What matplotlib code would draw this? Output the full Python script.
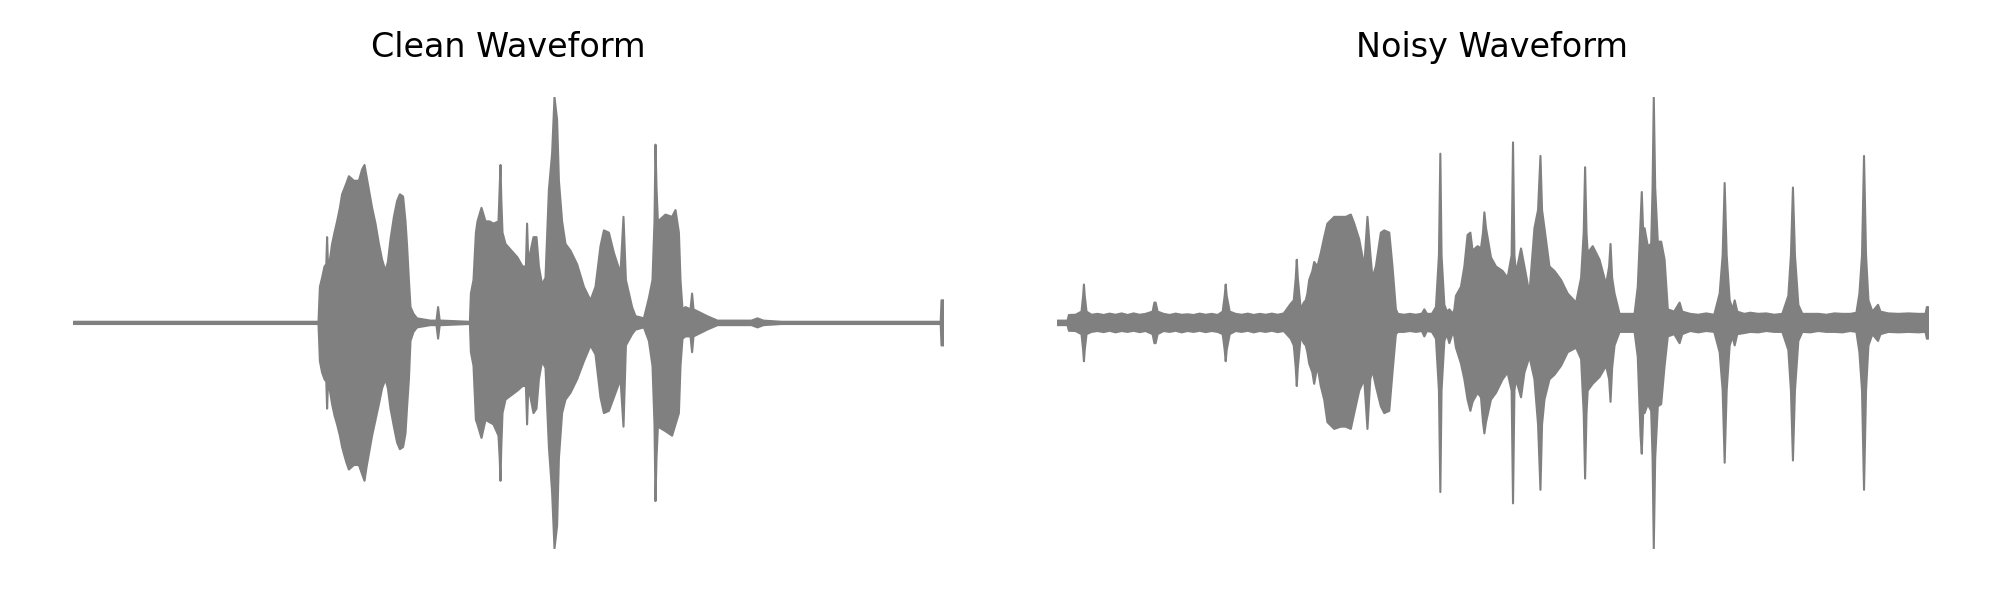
import matplotlib
matplotlib.use("Agg")
import matplotlib.pyplot as plt

# envelope of each waveform
# time in seconds, amplitude normalised to the loudest sample (=1.0)

clean_t = [0.0, 1.225,
           1.232, 1.243, 1.255, 1.264, 1.268, 1.272, 1.282, 1.293, 1.305, 1.318,
           1.332, 1.343, 1.352, 1.365, 1.377, 1.402, 1.427, 1.443, 1.455, 1.465,
           1.477, 1.493, 1.51, 1.527, 1.543, 1.56, 1.572, 1.585, 1.602, 1.618,
           1.632, 1.648, 1.66, 1.668, 1.677, 1.685, 1.70, 1.718,
           1.785, 1.815, 1.823, 1.831, 1.843, 1.977,
           1.982, 1.987, 2.0, 2.012, 2.02, 2.04, 2.06, 2.08, 2.10, 2.125,
           2.131, 2.135, 2.139, 2.145, 2.16, 2.19, 2.22, 2.245, 2.262, 2.268,
           2.274, 2.30, 2.315, 2.327, 2.343, 2.36, 2.377, 2.393, 2.405, 2.418,
           2.427, 2.443, 2.46, 2.485, 2.518, 2.552, 2.585, 2.61, 2.635, 2.652,
           2.677, 2.702, 2.735, 2.75, 2.762, 2.793, 2.81, 2.852, 2.877, 2.895,
           2.905, 2.91, 2.915, 2.922, 2.96, 2.993, 3.01, 3.027, 3.035, 3.045,
           3.06, 3.085, 3.093, 3.10, 3.168, 3.22, 3.39, 3.42, 3.45, 3.54,
           4.336, 4.340, 4.346, 4.35]
clean_upper = [0.005, 0.005,
               0.16, 0.20, 0.25, 0.26, 0.38, 0.27, 0.28, 0.35, 0.40, 0.45,
               0.51, 0.57, 0.59, 0.62, 0.65, 0.63, 0.63, 0.68, 0.70, 0.65,
               0.59, 0.51, 0.44, 0.35, 0.28, 0.23, 0.27, 0.37, 0.47, 0.54,
               0.57, 0.56, 0.45, 0.34, 0.19, 0.07, 0.04, 0.02,
               0.01, 0.01, 0.07, 0.01, 0.01, 0.005,
               0.005, 0.13, 0.19, 0.40, 0.45, 0.51, 0.45, 0.45, 0.44, 0.45,
               0.60, 0.70, 0.55, 0.40, 0.35, 0.32, 0.29, 0.25, 0.25, 0.44,
               0.27, 0.38, 0.38, 0.25, 0.17, 0.20, 0.59, 0.75, 1.00, 0.90,
               0.63, 0.45, 0.35, 0.32, 0.26, 0.16, 0.10, 0.16, 0.34, 0.41,
               0.40, 0.31, 0.22, 0.47, 0.19, 0.07, 0.03, 0.02, 0.11, 0.19,
               0.45, 0.79, 0.60, 0.45, 0.48, 0.47, 0.50, 0.40, 0.19, 0.06,
               0.07, 0.06, 0.13, 0.06, 0.03, 0.01, 0.01, 0.02, 0.01, 0.005,
               0.005, 0.10, 0.10, 0.10]
clean_lower = [0.005, 0.005,
               0.17, 0.22, 0.25, 0.26, 0.38, 0.28, 0.30, 0.36, 0.41, 0.45,
               0.50, 0.55, 0.58, 0.62, 0.65, 0.63, 0.63, 0.67, 0.70, 0.64,
               0.58, 0.50, 0.43, 0.36, 0.29, 0.25, 0.29, 0.38, 0.46, 0.53,
               0.56, 0.55, 0.49, 0.37, 0.25, 0.08, 0.04, 0.02,
               0.01, 0.01, 0.07, 0.01, 0.01, 0.005,
               0.005, 0.13, 0.19, 0.43, 0.45, 0.51, 0.43, 0.44, 0.45, 0.50,
               0.60, 0.70, 0.55, 0.40, 0.34, 0.32, 0.30, 0.28, 0.28, 0.45,
               0.28, 0.40, 0.38, 0.25, 0.17, 0.20, 0.55, 0.75, 1.00, 0.90,
               0.60, 0.40, 0.34, 0.31, 0.25, 0.17, 0.10, 0.14, 0.33, 0.40,
               0.39, 0.33, 0.25, 0.46, 0.10, 0.05, 0.03, 0.02, 0.08, 0.19,
               0.45, 0.79, 0.60, 0.46, 0.48, 0.50, 0.45, 0.40, 0.19, 0.07,
               0.06, 0.06, 0.13, 0.06, 0.03, 0.01, 0.01, 0.02, 0.01, 0.005,
               0.005, 0.10, 0.10, 0.10]

noisy_t = [0.0, 0.05, 0.057, 0.09, 0.12, 0.128, 0.132, 0.136, 0.145,
           0.17, 0.20, 0.23, 0.26, 0.29, 0.32, 0.35, 0.38, 0.41, 0.44,
           0.475, 0.484, 0.49, 0.50,
           0.53, 0.56, 0.59, 0.62, 0.65, 0.68, 0.71, 0.74, 0.77, 0.80,
           0.825, 0.835, 0.84, 0.845, 0.86,
           0.89, 0.92, 0.95, 0.98, 1.01, 1.04, 1.07, 1.10, 1.13,
           1.165, 1.18, 1.19, 1.195, 1.20, 1.215, 1.23,
           1.24, 1.248, 1.257, 1.273, 1.282, 1.298, 1.315, 1.332, 1.348, 1.382,
           1.415, 1.44, 1.465, 1.482, 1.507, 1.532, 1.548, 1.562, 1.573, 1.59,
           1.615, 1.632, 1.657, 1.673, 1.69, 1.70,
           1.73, 1.76, 1.79, 1.82, 1.832, 1.845, 1.87,
           1.89, 1.905, 1.912, 1.918, 1.932, 1.945, 1.957, 1.975,
           1.982, 1.99, 2.015, 2.032, 2.048, 2.062, 2.073, 2.098, 2.115, 2.125,
           2.132, 2.14, 2.165, 2.19, 2.223, 2.248, 2.268, 2.275, 2.282, 2.29,
           2.315, 2.332, 2.357, 2.382, 2.40, 2.412, 2.42, 2.432, 2.457, 2.482,
           2.515, 2.548, 2.59, 2.615, 2.628, 2.635, 2.642, 2.648, 2.673, 2.707,
           2.74, 2.755, 2.762, 2.77, 2.782, 2.807, 2.84, 2.882, 2.898, 2.912,
           2.918, 2.925, 2.932, 2.948, 2.965, 2.972, 2.978, 2.985, 2.998, 3.015,
           3.032, 3.048, 3.08, 3.107, 3.12,
           3.16, 3.20, 3.24, 3.28,
           3.307, 3.322, 3.332, 3.342, 3.357, 3.372, 3.382, 3.395,
           3.43, 3.46, 3.50, 3.54, 3.58, 3.62,
           3.65, 3.663, 3.673, 3.683, 3.70, 3.72,
           3.76, 3.80, 3.84, 3.88, 3.92, 3.96, 3.99,
           4.005, 4.018, 4.028, 4.038, 4.05, 4.07, 4.098, 4.11,
           4.15, 4.20, 4.25, 4.30, 4.335, 4.342, 4.348]
noisy_upper = [0.01, 0.01, 0.035, 0.036, 0.05, 0.12, 0.17, 0.12, 0.05,
               0.036, 0.040, 0.035, 0.041, 0.036, 0.042, 0.035, 0.042, 0.036, 0.040,
               0.05, 0.09, 0.09, 0.05,
               0.040, 0.035, 0.041, 0.036, 0.038, 0.035, 0.041, 0.036, 0.040, 0.035,
               0.05, 0.12, 0.17, 0.12, 0.05,
               0.040, 0.036, 0.041, 0.035, 0.040, 0.036, 0.041, 0.036, 0.042,
               0.085, 0.10, 0.20, 0.28, 0.20, 0.06, 0.09,
               0.10, 0.13, 0.19, 0.23, 0.27, 0.25, 0.31, 0.38, 0.44, 0.47,
               0.47, 0.47, 0.48, 0.44, 0.37, 0.25, 0.47, 0.31, 0.20, 0.25,
               0.40, 0.41, 0.40, 0.25, 0.06, 0.04,
               0.036, 0.040, 0.036, 0.041, 0.06, 0.040, 0.040,
               0.07, 0.30, 0.75, 0.30, 0.08, 0.05, 0.06, 0.04,
               0.06, 0.12, 0.16, 0.25, 0.39, 0.40, 0.32, 0.34, 0.33, 0.40,
               0.49, 0.42, 0.29, 0.25, 0.23, 0.20, 0.30, 0.80, 0.30, 0.22,
               0.33, 0.25, 0.13, 0.42, 0.50, 0.74, 0.50, 0.42, 0.25, 0.23,
               0.19, 0.13, 0.09, 0.20, 0.40, 0.69, 0.40, 0.31, 0.34, 0.28,
               0.17, 0.25, 0.35, 0.20, 0.13, 0.04, 0.04, 0.04, 0.16, 0.45,
               0.58, 0.40, 0.42, 0.34, 0.35, 0.60, 1.00, 0.60, 0.36, 0.36,
               0.28, 0.06, 0.05, 0.09, 0.05,
               0.040, 0.036, 0.042, 0.036,
               0.13, 0.30, 0.62, 0.30, 0.10, 0.06, 0.10, 0.05,
               0.040, 0.045, 0.040, 0.042, 0.036, 0.040,
               0.12, 0.30, 0.60, 0.30, 0.08, 0.04,
               0.040, 0.040, 0.036, 0.042, 0.040, 0.040, 0.045,
               0.13, 0.30, 0.74, 0.30, 0.10, 0.05, 0.08, 0.05,
               0.042, 0.040, 0.042, 0.040, 0.040, 0.07, 0.07]
noisy_lower = [0.01, 0.01, 0.035, 0.036, 0.05, 0.12, 0.17, 0.12, 0.05,
               0.040, 0.036, 0.041, 0.035, 0.042, 0.036, 0.040, 0.035, 0.041, 0.036,
               0.05, 0.09, 0.09, 0.05,
               0.036, 0.040, 0.035, 0.042, 0.036, 0.040, 0.035, 0.041, 0.036, 0.040,
               0.05, 0.12, 0.17, 0.12, 0.05,
               0.036, 0.040, 0.035, 0.042, 0.036, 0.040, 0.035, 0.041, 0.036,
               0.07, 0.10, 0.20, 0.28, 0.20, 0.06, 0.09,
               0.10, 0.13, 0.18, 0.22, 0.27, 0.19, 0.28, 0.34, 0.44, 0.47,
               0.46, 0.46, 0.47, 0.40, 0.30, 0.25, 0.47, 0.25, 0.21, 0.28,
               0.37, 0.40, 0.39, 0.22, 0.05, 0.04,
               0.040, 0.036, 0.040, 0.036, 0.06, 0.036, 0.040,
               0.07, 0.30, 0.75, 0.30, 0.08, 0.05, 0.09, 0.04,
               0.06, 0.11, 0.18, 0.25, 0.34, 0.39, 0.35, 0.31, 0.33, 0.44,
               0.49, 0.44, 0.34, 0.31, 0.25, 0.22, 0.30, 0.80, 0.30, 0.25,
               0.33, 0.22, 0.15, 0.25, 0.45, 0.74, 0.45, 0.34, 0.25, 0.23,
               0.19, 0.13, 0.11, 0.16, 0.40, 0.69, 0.40, 0.30, 0.27, 0.24,
               0.19, 0.25, 0.35, 0.20, 0.10, 0.04, 0.04, 0.04, 0.15, 0.50,
               0.58, 0.40, 0.40, 0.36, 0.39, 0.60, 1.00, 0.60, 0.37, 0.36,
               0.19, 0.06, 0.05, 0.09, 0.05,
               0.036, 0.042, 0.036, 0.040,
               0.13, 0.30, 0.62, 0.30, 0.10, 0.06, 0.10, 0.05,
               0.045, 0.040, 0.042, 0.036, 0.040, 0.040,
               0.12, 0.30, 0.61, 0.30, 0.08, 0.04,
               0.042, 0.036, 0.040, 0.040, 0.042, 0.036, 0.040,
               0.13, 0.30, 0.74, 0.30, 0.10, 0.05, 0.08, 0.05,
               0.040, 0.042, 0.040, 0.042, 0.040, 0.07, 0.07]

titles = ["Clean Waveform", "Noisy Waveform"]


def draw_wave(ax, t, upper, lower, title):
    assert len(t) == len(upper) == len(lower)
    neg = [-v for v in lower]
    ax.fill_between(t, neg, upper, color="gray", edgecolor="gray", linewidth=1.5)
    ax.set_xlim(0, 4.35)
    ax.set_ylim(-1, 1)
    ax.axis("off")
    ax.set_title(title, fontsize=24, pad=29)


fig = plt.figure(figsize=(20, 6), dpi=100)
ax1 = fig.add_axes([0.0365, 0.0867, 0.435, 0.752])
ax2 = fig.add_axes([0.5285, 0.0867, 0.4355, 0.752])

draw_wave(ax1, clean_t, clean_upper, clean_lower, titles[0])
draw_wave(ax2, noisy_t, noisy_upper, noisy_lower, titles[1])

fig.savefig("out.png", dpi=100)
